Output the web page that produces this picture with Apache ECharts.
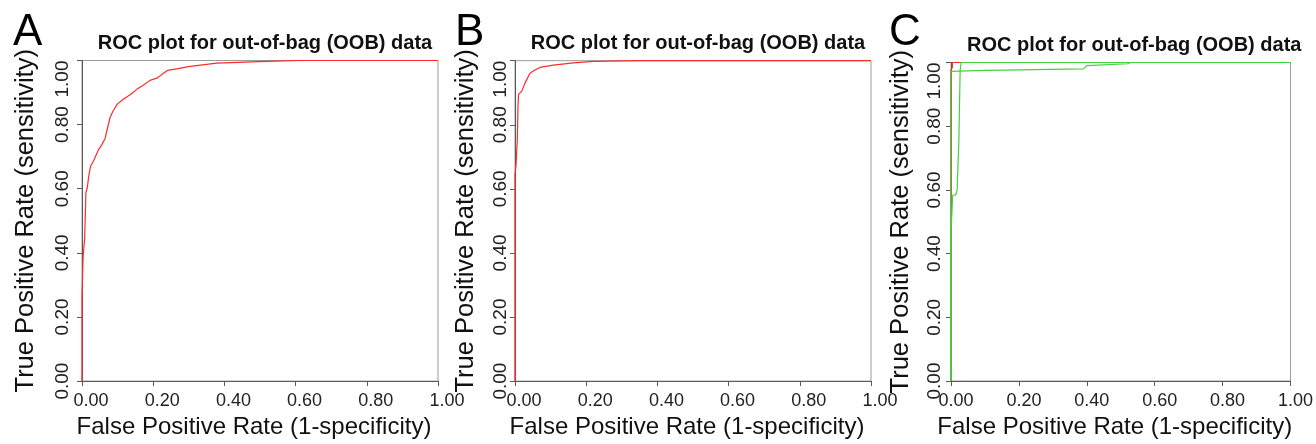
<!DOCTYPE html>
<html>
<head>
<meta charset="utf-8">
<script src="https://cdn.jsdelivr.net/npm/echarts@6/dist/echarts.min.js"></script>
<style>
  html, body { margin: 0; padding: 0; background: #fff; }
  #chart { width: 1316px; height: 444px; }
</style>
</head>
<body>
<div id="chart"></div>
<script>
// tick values shared by every panel
const ticks = [0, 0.2, 0.4, 0.6, 0.8, 1.0];

// panel A: single ROC curve
const aFpr = [0, 0, 0.003, 0.0075, 0.011, 0.015, 0.019, 0.024, 0.032, 0.046, 0.055, 0.065, 0.069, 0.079, 0.088, 0.099, 0.116, 0.135, 0.154, 0.172, 0.191, 0.212, 0.224, 0.240, 0.266, 0.299, 0.378, 0.519, 0.61, 1.0];
const aTpr = [0, 0.26, 0.385, 0.446, 0.589, 0.604, 0.64, 0.67, 0.686, 0.721, 0.736, 0.757, 0.777, 0.823, 0.844, 0.864, 0.879, 0.893, 0.910, 0.923, 0.938, 0.946, 0.956, 0.969, 0.974, 0.981, 0.992, 0.997, 1.0, 1.0];

// panel B: single ROC curve
const bFpr = [0, 0, 0.003, 0.0066, 0.0084, 0.010, 0.019, 0.028, 0.042, 0.056, 0.070, 0.108, 0.164, 0.22, 0.35, 1.0];
const bTpr = [0, 0.645, 0.675, 0.757, 0.859, 0.895, 0.905, 0.930, 0.961, 0.971, 0.979, 0.986, 0.993, 0.998, 1.0, 1.0];

// panel C: three class curves
const cRedFpr = [0, 0, 0.004, 0.004, 1.0];
const cRedTpr = [0, 0.975, 0.985, 1.0, 1.0];
const cGreenFpr = [0, 0, 0.005, 0.014, 0.018, 0.023, 0.027, 0.030, 1.0];
const cGreenTpr = [0, 0.466, 0.584, 0.584, 0.60, 0.75, 0.977, 1.0, 1.0];
const cGreen2Fpr = [0, 0, 0.10, 0.20, 0.39, 0.40, 0.52, 0.53, 1.0];
const cGreen2Tpr = [0, 0.972, 0.975, 0.977, 0.98, 0.99, 0.996, 1.0, 1.0];

const panelLetters = ['A', 'B', 'C'];
const plotTitle = 'ROC plot for out-of-bag (OOB) data';
const xName = 'False Positive Rate (1-specificity)';
const yName = 'True Positive Rate (sensitivity)';

const RED = '#ff2a2a';
const GREEN = '#3fd43f';
const FONT = '"Liberation Sans", Arial, Helvetica, sans-serif';

function zip(xs, ys) {
  return xs.map((x, i) => [x, ys[i]]);
}

const panels = [
  { left: 82, top: 60.5, width: 356, height: 327, letterX: 8, yMargin: 10, yGap: 43, xShift: 9, xGap: 33,
    curves: [{ fpr: aFpr, tpr: aTpr, color: RED }] },
  { left: 515, top: 60.7, width: 356, height: 326.6, letterX: 450, yMargin: 5, yGap: 36, xShift: 9, xGap: 31,
    curves: [{ fpr: bFpr, tpr: bTpr, color: RED }] },
  { left: 951, top: 62.5, width: 356.5, height: 326.3, letterX: 884, yMargin: 7, yGap: 37, xShift: 5, xGap: 34,
    curves: [
      { fpr: cRedFpr, tpr: cRedTpr, color: RED },
      { fpr: cGreenFpr, tpr: cGreenTpr, color: GREEN },
      { fpr: cGreen2Fpr, tpr: cGreen2Tpr, color: GREEN }
    ] }
];

const axisCommon = {
  type: 'value',
  min: 0,
  max: 1,
  interval: 0.2,
  splitLine: { show: false },
  axisLine: { show: true, lineStyle: { color: '#5a5a5a', width: 1 } },
  axisTick: { show: true, length: 5, lineStyle: { color: '#5a5a5a' } },
  nameLocation: 'middle'
};

const grids = [], xAxes = [], yAxes = [], series = [], titles = [];

panels.forEach((p, i) => {
  grids.push({
    left: p.left, top: p.top, width: p.width, height: p.height,
    show: true, borderColor: '#9a9a9a', borderWidth: 1, backgroundColor: 'transparent'
  });
  xAxes.push(Object.assign({}, axisCommon, {
    gridIndex: i,
    name: xName,
    nameGap: p.xGap,
    nameTextStyle: { fontFamily: FONT, fontSize: 24, color: '#111', padding: [0, 12, 0, 0] },
    axisLabel: {
      fontFamily: FONT, fontSize: 18, color: '#222', margin: 11,
      padding: [0, 0, 0, p.xShift * 2],
      formatter: v => v.toFixed(2)
    }
  }));
  yAxes.push(Object.assign({}, axisCommon, {
    gridIndex: i,
    name: yName,
    nameGap: p.yGap,
    nameTextStyle: { fontFamily: FONT, fontSize: 25.5, color: '#111' },
    axisLabel: {
      fontFamily: FONT, fontSize: 19, color: '#222', margin: p.yMargin,
      rotate: 90, alignMaxLabel: 'right',
      formatter: v => v.toFixed(2)
    }
  }));
  p.curves.forEach(c => {
    series.push({
      type: 'line',
      xAxisIndex: i,
      yAxisIndex: i,
      data: zip(c.fpr, c.tpr),
      showSymbol: false,
      lineStyle: { color: c.color, width: 1.2 },
      itemStyle: { color: c.color },
      silent: true
    });
  });
  titles.push({
    text: panelLetters[i],
    left: p.letterX,
    top: 6,
    textStyle: { fontFamily: FONT, fontSize: 44, fontWeight: 'normal', color: '#000' }
  });
  titles.push({
    text: plotTitle,
    left: p.left + p.width / 2,
    textAlign: 'center',
    top: i === 2 ? 30 : 28,
    textStyle: { fontFamily: FONT, fontSize: 20, fontWeight: 'bold', color: '#111' }
  });
});

const chart = echarts.init(document.getElementById('chart'), null, { renderer: 'canvas' });
chart.setOption({
  animation: false,
  backgroundColor: '#fff',
  title: titles,
  grid: grids,
  xAxis: xAxes,
  yAxis: yAxes,
  series: series
});

window.addEventListener('resize', () => chart.resize());
</script>
</body>
</html>
